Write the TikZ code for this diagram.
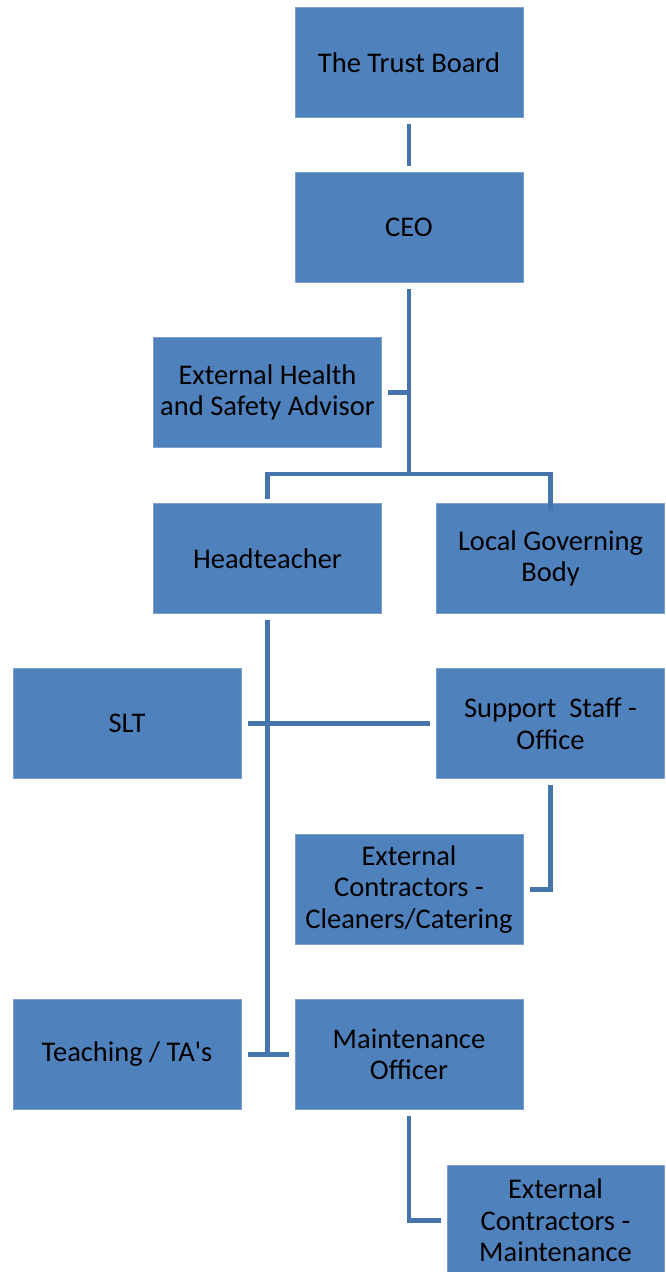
\documentclass[tikz,border=0pt]{standalone}
\usepackage{fontspec}
\setmainfont{Carlito}
\definecolor{boxfill}{RGB}{79,129,189}
\definecolor{boxedge}{RGB}{125,160,208}
\definecolor{linkc}{RGB}{70,116,173}
\begin{document}
\begin{tikzpicture}[x=1pt,y=-1pt,
  orgbox/.style={rectangle, fill=boxfill, draw=boxedge, line width=1pt,
    minimum width=228pt, minimum height=110pt, inner sep=2pt,
    align=center, font=\fontsize{28.5}{31.5}\selectfont, text=black},
  link/.style={draw=linkc, line width=4.5pt, shorten <=6pt, shorten >=6pt},
  linkA/.style={draw=linkc, line width=4.5pt, shorten <=6pt}]
\useasboundingbox (0,0) rectangle (665,1272);
\fill[white] (0,0) rectangle (665,1272);
\node[orgbox] (trust) at (409,62.5) {The Trust Board};
\node[orgbox] (ceo) at (409,227.5) {CEO};
\node[orgbox] (ehs) at (267.5,392.5) {External Health\\and Safety Advisor};
\node[orgbox] (head) at (267.5,558.5) {Headteacher};
\node[orgbox] (lgb) at (550.5,558.5) {Local Governing\\Body};
\node[orgbox] (slt) at (127,723.5) {SLT};
\node[orgbox] (sso) at (550.5,723.5) {Support\ \ Staff -\\Office};
\node[orgbox] (ecc) at (409,889.5) {External\\Contractors -\\Cleaners/Catering};
\node[orgbox] (teach) at (127,1054.5) {Teaching / TA\textquotesingle s};
\node[orgbox] (maint) at (409,1054.5) {Maintenance\\Officer};
\node[orgbox, minimum width=217pt] (ecm) at (555.5,1220.5) {External\\Contractors -\\Maintenance};
\coordinate (j1) at (409,474);
\coordinate (j2) at (267.5,1055);
\path[link] (trust) -- (ceo);
\path[linkA] (ceo.south) -- (j1);
\path[linkA, line cap=rect, shorten <=0pt] (head.north) ++(0,-6) |- (j1) -| ([yshift=-6pt]lgb.north);
\path[linkA] (ehs.east) -- (ehs.east -| j1);
\path[linkA] (head.south) -- (j2);
\path[link] (slt) -- (sso);
\path[link] (teach) -- (maint);
\path[link] (sso.south) |- (ecc.east);
\path[link] (maint.south) |- (ecm.west);
\end{tikzpicture}
\end{document}
